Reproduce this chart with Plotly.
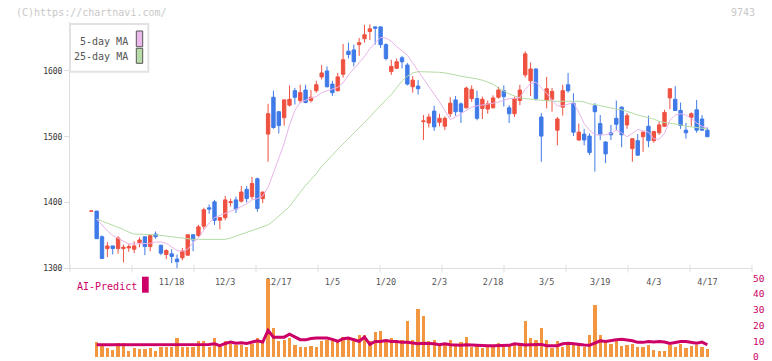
import plotly.graph_objects as go

dates = [
    "2025-10-27", "2025-10-28", "2025-10-29", "2025-10-30", "2025-10-31",
    "2025-11-04", "2025-11-05", "2025-11-06", "2025-11-07", "2025-11-10",
    "2025-11-11", "2025-11-12", "2025-11-13", "2025-11-14", "2025-11-17",
    "2025-11-18", "2025-11-19", "2025-11-20", "2025-11-21", "2025-11-25",
    "2025-11-26", "2025-11-27", "2025-11-28", "2025-12-01", "2025-12-02",
    "2025-12-03", "2025-12-04", "2025-12-05", "2025-12-08", "2025-12-09",
    "2025-12-10", "2025-12-11", "2025-12-12", "2025-12-15", "2025-12-16",
    "2025-12-17", "2025-12-18", "2025-12-19", "2025-12-22", "2025-12-23",
    "2025-12-24", "2025-12-25", "2025-12-26", "2025-12-29", "2025-12-30",
    "2026-01-05", "2026-01-06", "2026-01-07", "2026-01-08", "2026-01-09",
    "2026-01-13", "2026-01-14", "2026-01-15", "2026-01-16", "2026-01-19",
    "2026-01-20", "2026-01-21", "2026-01-22", "2026-01-23", "2026-01-26",
    "2026-01-27", "2026-01-28", "2026-01-29", "2026-01-30", "2026-02-02",
    "2026-02-03", "2026-02-04", "2026-02-05", "2026-02-06", "2026-02-09",
    "2026-02-10", "2026-02-12", "2026-02-13", "2026-02-16", "2026-02-17",
    "2026-02-18", "2026-02-19", "2026-02-20", "2026-02-24", "2026-02-25",
    "2026-02-26", "2026-02-27", "2026-03-02", "2026-03-03", "2026-03-04",
    "2026-03-05", "2026-03-06", "2026-03-09", "2026-03-10", "2026-03-11",
    "2026-03-12", "2026-03-13", "2026-03-16", "2026-03-17", "2026-03-18",
    "2026-03-19", "2026-03-23", "2026-03-24", "2026-03-25", "2026-03-26",
    "2026-03-27", "2026-03-30", "2026-03-31", "2026-04-01", "2026-04-02",
    "2026-04-03", "2026-04-06", "2026-04-07", "2026-04-08", "2026-04-09",
    "2026-04-10", "2026-04-13", "2026-04-14", "2026-04-15", "2026-04-16",
    "2026-04-17",
]

open_ = [1387, 1387, 1348, 1330, 1334, 1330, 1330, 1331, 1329, 1339,
         1348, 1333, 1352, 1335, 1321, 1322, 1314, 1316, 1320, 1351,
         1350, 1364, 1392, 1401, 1373, 1377, 1400, 1404, 1402, 1420,
         1409, 1436, 1406, 1504, 1560, 1538, 1529, 1548, 1570, 1555,
         1571, 1555, 1570, 1591, 1600, 1580, 1570, 1595, 1630, 1632,
         1640, 1649, 1660, 1667, 1667, 1640, 1599, 1604, 1620, 1609,
         1576, 1577, 1523, 1521, 1539, 1522, 1516, 1535, 1556, 1550,
         1544, 1558, 1558, 1543, 1542, 1544, 1560, 1570, 1544, 1535,
         1555, 1594, 1585, 1603, 1530, 1555, 1557, 1510, 1545, 1579,
         1551, 1495, 1504, 1501, 1547, 1520, 1492, 1506, 1528, 1545,
         1518, 1482, 1494, 1500, 1516, 1494, 1506, 1516, 1559, 1557,
         1540, 1510, 1529, 1541, 1527, 1510]
high = [1387, 1387, 1350, 1340, 1334, 1349, 1336, 1337, 1341, 1347,
        1348, 1352, 1356, 1336, 1329, 1329, 1321, 1331, 1351, 1351,
        1366, 1392, 1397, 1404, 1378, 1410, 1406, 1409, 1425, 1425,
        1439, 1438, 1416, 1550, 1570, 1539, 1557, 1578, 1574, 1579,
        1579, 1571, 1585, 1609, 1607, 1585, 1597, 1641, 1643, 1640,
        1650, 1670, 1671, 1668, 1668, 1642, 1617, 1619, 1623, 1612,
        1592, 1586, 1533, 1535, 1547, 1535, 1531, 1560, 1562, 1552,
        1576, 1578, 1570, 1561, 1555, 1563, 1576, 1578, 1548, 1561,
        1579, 1630, 1613, 1604, 1536, 1591, 1574, 1530, 1579, 1597,
        1566, 1520, 1512, 1505, 1551, 1533, 1493, 1518, 1555, 1546,
        1536, 1497, 1504, 1508, 1532, 1509, 1523, 1541, 1573, 1577,
        1552, 1521, 1537, 1556, 1533, 1514]
low = [1387, 1345, 1314, 1317, 1321, 1322, 1309, 1325, 1323, 1332,
       1320, 1326, 1345, 1320, 1314, 1308, 1299, 1312, 1319, 1326,
       1348, 1359, 1383, 1366, 1359, 1373, 1394, 1384, 1400, 1400,
       1405, 1386, 1399, 1462, 1512, 1505, 1517, 1546, 1549, 1551,
       1551, 1552, 1567, 1587, 1575, 1562, 1569, 1590, 1619, 1607,
       1623, 1643, 1647, 1640, 1635, 1616, 1594, 1603, 1604, 1578,
       1567, 1564, 1495, 1514, 1509, 1516, 1510, 1530, 1532, 1521,
       1543, 1553, 1525, 1527, 1535, 1543, 1558, 1546, 1521, 1530,
       1548, 1590, 1562, 1555, 1462, 1543, 1538, 1487, 1532, 1567,
       1501, 1494, 1487, 1472, 1447, 1495, 1460, 1495, 1510, 1484,
       1512, 1462, 1471, 1477, 1484, 1491, 1503, 1515, 1542, 1539,
       1512, 1497, 1516, 1506, 1509, 1500]
close = [1387, 1345, 1315, 1334, 1330, 1346, 1332, 1333, 1334, 1343,
         1333, 1350, 1348, 1323, 1327, 1318, 1310, 1326, 1351, 1343,
         1363, 1389, 1390, 1373, 1377, 1404, 1401, 1390, 1416, 1406,
         1429, 1391, 1416, 1535, 1514, 1517, 1556, 1557, 1560, 1567,
         1552, 1560, 1579, 1597, 1576, 1567, 1591, 1617, 1625, 1614,
         1643, 1655, 1664, 1665, 1640, 1619, 1607, 1614, 1614, 1580,
         1586, 1573, 1524, 1530, 1515, 1528, 1528, 1551, 1538, 1538,
         1574, 1572, 1528, 1557, 1550, 1559, 1571, 1561, 1535, 1558,
         1571, 1626, 1603, 1558, 1501, 1573, 1569, 1527, 1570, 1570,
         1507, 1507, 1495, 1476, 1538, 1503, 1474, 1503, 1519, 1503,
         1532, 1497, 1472, 1507, 1494, 1508, 1518, 1537, 1573, 1540,
         1517, 1506, 1535, 1510, 1510, 1500]

ma5 = [None, 1375, 1366, 1357, 1350, 1346, 1341, 1337, 1337, 1337,
       1338, 1338, 1340, 1340, 1338, 1332, 1327, 1326, 1329, 1339,
       1346, 1358, 1369, 1377, 1380, 1384, 1386, 1390, 1394, 1398,
       1404, 1406, 1410, 1423, 1445, 1468, 1490, 1518, 1540, 1552,
       1556, 1559, 1561, 1567, 1570, 1573, 1575, 1582, 1594, 1603,
       1612, 1622, 1634, 1643, 1651, 1650, 1645, 1637, 1630, 1624,
       1612, 1600, 1590, 1578, 1565, 1553, 1540, 1526, 1530, 1535,
       1540, 1545, 1547, 1548, 1549, 1551, 1553, 1556, 1558, 1558,
       1560, 1572, 1581, 1583, 1575, 1566, 1556, 1547, 1547, 1550,
       1552, 1537, 1520, 1510, 1503, 1503, 1503, 1505, 1510, 1506,
       1500, 1505, 1511, 1509, 1507, 1497, 1496, 1505, 1525, 1533,
       1535, 1533, 1528, 1521, 1516, 1513]
ma25 = [None, 1375, 1372, 1369, 1366, 1362, 1359, 1355, 1352, 1352,
        1351, 1351, 1351, 1350, 1349, 1347, 1346, 1345, 1345, 1344,
        1344, 1344, 1344, 1344, 1344, 1344, 1346, 1349, 1352, 1355,
        1358, 1361, 1363, 1366, 1372, 1379, 1386, 1394, 1405, 1416,
        1426, 1435, 1444, 1455, 1463, 1472, 1481, 1489, 1497, 1505,
        1513, 1522, 1530, 1539, 1548, 1556, 1564, 1575, 1585, 1592,
        1597, 1599, 1599, 1599, 1599, 1598, 1597, 1596, 1594, 1592,
        1591, 1590, 1588, 1586, 1583, 1580, 1574, 1569, 1565, 1562,
        1559, 1558, 1557, 1556, 1555, 1555, 1554, 1554, 1554, 1555,
        1555, 1554, 1553, 1550, 1549, 1547, 1546, 1543, 1542, 1541,
        1539, 1536, 1533, 1531, 1530, 1527, 1523, 1522, 1520, 1519,
        1518, 1516, 1515, 1514, 1513, 1512]

volume = [None, 9.3, 7.2, 5.3, 4.2, 8.4, 8.4, 3.6, 5.3, 4.6,
          4.6, 5.3, 3.6, 6.3, 6.3, 6.3, 11.6, 6.3, 6.3, 6.3,
          9.9, 9.9, 6.1, 11.6, 6.1, 9.9, 7.8, 7.2, 7.2, 6.1,
          7.8, 12.2, 9.9, 49.5, 18.5, 9.9, 10.9, 11.6, 7.2, 6.1,
          6.1, 6.7, 6.1, 9.9, 10.3, 10.3, 9.9, 12.6, 12.0, 12.0,
          14.1, 13.5, 9.9, 15.6, 16.2, 10.9, 11.6, 10.9, 10.9, 23.0,
          10.9, 30.5, 25.7, 9.9, 10.9, 7.2, 7.8, 10.3, 7.4, 9.3,
          12.6, 6.3, 7.2, 5.7, 6.3, 6.3, 8.4, 7.2, 7.2, 7.2,
          8.4, 22.6, 11.6, 10.9, 18.5, 10.9, 5.3, 9.9, 6.3, 7.2,
          7.8, 7.2, 6.3, 13.5, 32.7, 14.1, 9.9, 7.8, 9.9, 6.7,
          7.2, 7.8, 6.3, 6.1, 7.2, 4.2, 3.6, 3.6, 7.2, 6.3,
          7.8, 5.3, 6.7, 7.2, 6.3, 4.6]

ai_predict = [None, 7.8, 7.8, 7.8, 7.8, 7.8, 7.8, 7.8, 7.8, 7.8,
              7.8, 7.8, 7.8, 7.8, 7.8, 7.8, 7.8, 7.8, 7.8, 7.8,
              7.8, 7.8, 8.0, 8.4, 7.2, 8.6, 9.5, 8.8, 9.0, 8.6,
              9.5, 10.3, 9.5, 16.9, 12.6, 12.4, 12.6, 14.5, 12.8, 11.0,
              10.9, 11.8, 12.0, 12.0, 12.0, 11.2, 10.0, 11.6, 12.0, 11.0,
              10.0, 12.6, 8.0, 9.9, 9.9, 10.5, 9.9, 9.9, 9.3, 9.3,
              8.8, 8.4, 8.8, 8.8, 8.4, 7.8, 8.4, 7.8, 7.4, 7.4,
              7.8, 7.6, 7.2, 7.2, 7.2, 7.2, 7.4, 7.4, 7.4, 8.4,
              7.8, 7.6, 7.8, 7.8, 8.0, 7.2, 7.2, 7.2, 8.4, 8.8,
              8.4, 7.8, 7.6, 7.4, 8.8, 10.3, 9.9, 10.5, 10.9, 11.2,
              10.9, 10.3, 9.3, 9.3, 9.9, 9.5, 9.9, 9.5, 8.6, 9.3,
              9.9, 9.9, 9.3, 8.8, 9.5, 7.8]

label_dates = ["2025-11-18", "2025-12-03", "2025-12-17", "2026-01-05",
               "2026-01-20", "2026-02-03", "2026-02-18", "2026-03-05",
               "2026-03-19", "2026-04-03", "2026-04-17"]
label_text = ["11/18", "12/3", "12/17", "1/5", "1/20", "2/3", "2/18",
              "3/5", "3/19", "4/3", "4/17"]
price_ticks = [1300, 1400, 1500, 1600]
volume_ticks = [0, 10, 20, 30, 40, 50]

FONT = "DejaVu Sans Mono"
RED = "#EF5141"
BLUE = "#3F7AE8"
MAGENTA = "#CC0066"
AXIS = "#DEDEDE"

W, H = 772, 361
ML, MR, MT, MB = 70, 20, 22, 4
PW, PH = W - ML - MR, H - MT - MB


def px_x(px):
    return (px - ML) / PW


def px_y(py):
    return (H - MB - py) / PH


fig = go.Figure()

fig.add_trace(go.Bar(
    x=dates, y=volume, xaxis="x", yaxis="y2", width=0.62,
    marker=dict(color="#F2963F", line=dict(width=0)), showlegend=False,
))
fig.add_trace(go.Scatter(
    x=dates, y=ai_predict, xaxis="x", yaxis="y2", mode="lines",
    line=dict(color=MAGENTA, width=3), showlegend=False,
))
fig.add_trace(go.Scatter(
    x=dates, y=ma25, mode="lines", line=dict(color="#B4DBA4", width=1),
    showlegend=False,
))
fig.add_trace(go.Scatter(
    x=dates, y=ma5, mode="lines", line=dict(color="#E9B4EA", width=1),
    showlegend=False,
))
fig.add_trace(go.Candlestick(
    x=dates, open=open_, high=high, low=low, close=close,
    increasing=dict(line=dict(color=RED, width=1), fillcolor=RED),
    decreasing=dict(line=dict(color=BLUE, width=1), fillcolor=BLUE),
    whiskerwidth=0, showlegend=False,
))

y_main_bottom = px_y(268.3)
y_main_top = 1.0
price_max = 1300 + (268.3 - MT) / 0.6578

shapes = []
# x-axis tick marks (11 equal divisions)
for k in range(12):
    shapes.append(dict(type="line", xref="paper", yref="paper",
                       x0=k / 11, x1=k / 11, y0=px_y(265), y1=px_y(272.5),
                       line=dict(color=AXIS, width=1)))
# legend box
shapes.append(dict(type="rect", xref="paper", yref="paper",
                   x0=0, x1=px_x(148.3), y0=px_y(71.7), y1=px_y(24),
                   fillcolor="white", line=dict(color="#E2E2E2", width=2)))
shapes.append(dict(type="rect", xref="paper", yref="paper",
                   x0=px_x(136.3), x1=px_x(142.7), y0=px_y(46.7), y1=px_y(31),
                   fillcolor="#EBB8EB", line=dict(color="#555555", width=1)))
shapes.append(dict(type="rect", xref="paper", yref="paper",
                   x0=px_x(136.3), x1=px_x(142.7), y0=px_y(63.3), y1=px_y(48.3),
                   fillcolor="#B8DCA8", line=dict(color="#555555", width=1)))
# AI-Predict swatch
shapes.append(dict(type="rect", xref="paper", yref="paper",
                   x0=px_x(142), x1=px_x(148.7), y0=px_y(292.7), y1=px_y(276.7),
                   fillcolor=MAGENTA, line=dict(width=0)))

annotations = [
    dict(text="(C)https://chartnavi.com/", xref="paper", yref="paper",
         x=px_x(14), y=px_y(12.3), xanchor="left", yanchor="middle",
         showarrow=False, font=dict(family=FONT, size=10, color="#C8C8C8")),
    dict(text="9743", xref="paper", yref="paper",
         x=px_x(757.3), y=px_y(12.3), xanchor="right", yanchor="middle",
         showarrow=False, font=dict(family=FONT, size=10, color="#C8C8C8")),
    dict(text="5-day MA", xref="paper", yref="paper",
         x=px_x(130), y=px_y(41), xanchor="right", yanchor="middle",
         showarrow=False, font=dict(family=FONT, size=10, color="#555555")),
    dict(text="25-day MA", xref="paper", yref="paper",
         x=px_x(130), y=px_y(56.7), xanchor="right", yanchor="middle",
         showarrow=False, font=dict(family=FONT, size=10, color="#555555")),
    dict(text="AI-Predict", xref="paper", yref="paper",
         x=px_x(75), y=px_y(286), xanchor="left", yanchor="middle",
         showarrow=False, font=dict(family=FONT, size=10, color=MAGENTA)),
]

fig.update_layout(
    width=W, height=H,
    margin=dict(l=ML, r=MR, t=MT, b=MB, autoexpand=False),
    paper_bgcolor="white", plot_bgcolor="white",
    boxgap=0.1,
    bargap=0,
    showlegend=False,
    shapes=shapes,
    annotations=annotations,
    xaxis=dict(
        type="category", domain=[0, 1], anchor="y", automargin=False,
        range=[-3.976, 123.33],
        rangeslider=dict(visible=False),
        showline=True, linecolor=AXIS, linewidth=1,
        showgrid=False, zeroline=False,
        ticks="outside", ticklen=5, tickcolor="rgba(0,0,0,0)",
        tickvals=label_dates, ticktext=label_text,
        tickfont=dict(family=FONT, size=8.5, color="#555555"),
    ),
    yaxis=dict(
        domain=[y_main_bottom, y_main_top], anchor="x", automargin=False,
        range=[1300, price_max],
        showline=True, linecolor=AXIS, linewidth=1,
        showgrid=False, zeroline=False,
        ticks="outside", ticklen=5, tickcolor=AXIS,
        tickvals=price_ticks, ticktext=[str(v) for v in price_ticks],
        tickfont=dict(family=FONT, size=8, color="#333333"),
    ),
    yaxis2=dict(
        domain=[0, px_y(278.3)], anchor="x", side="right", automargin=False,
        range=[0, 50],
        showline=False, showgrid=False, zeroline=False,
        ticks="", tickvals=volume_ticks, ticklabeloverflow="allow",
        tickfont=dict(family=FONT, size=9.5, color=MAGENTA),
    ),
)

fig.write_html(
    "out.html",
    config={"displayModeBar": False},
    post_script="document.body.style.margin='0';document.body.style.padding='0';",
)
